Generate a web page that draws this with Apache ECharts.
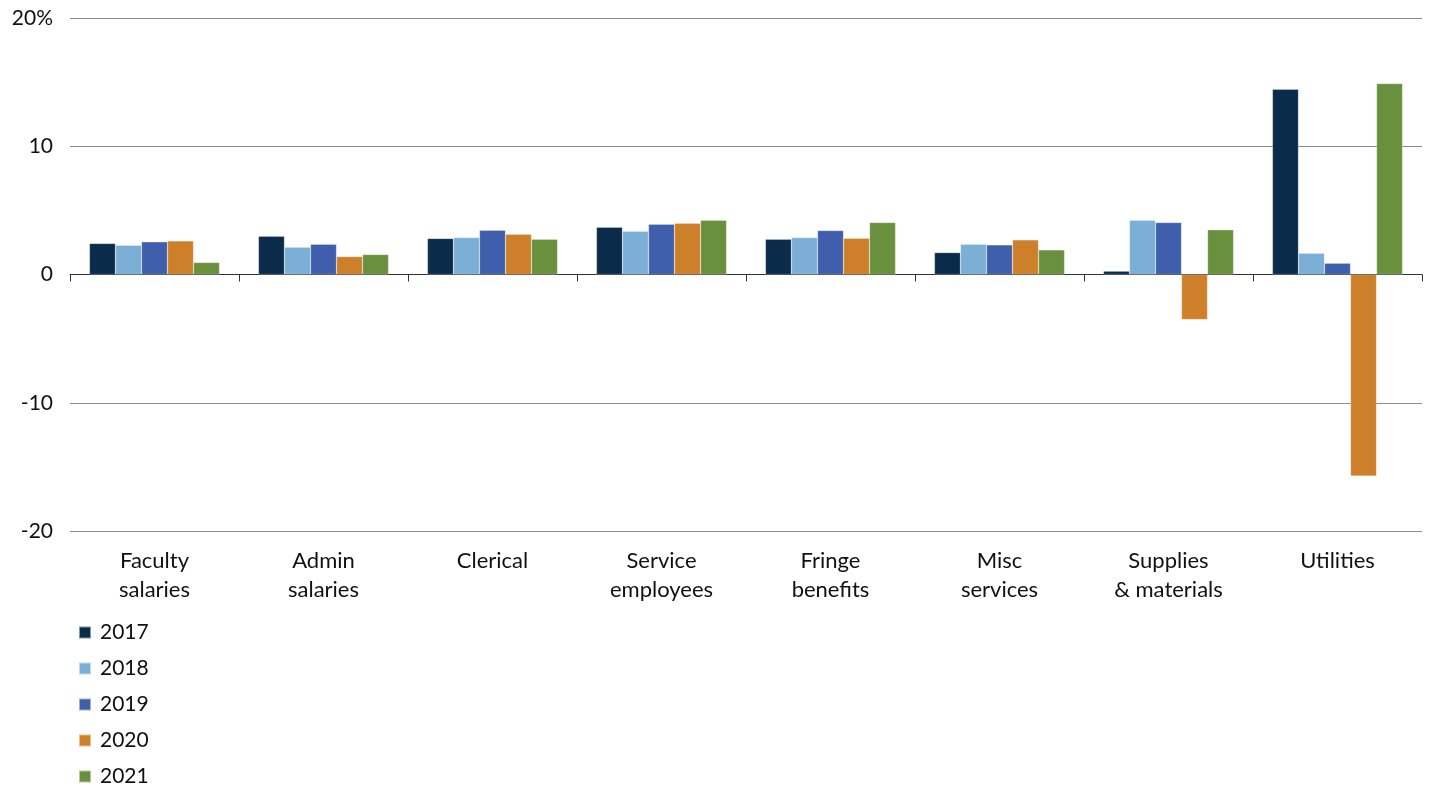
<!DOCTYPE html>
<html><head><meta charset="utf-8">
<script src="https://cdn.jsdelivr.net/npm/echarts@6/dist/echarts.min.js"></script>
<style>html,body{margin:0;padding:0;background:#fff}#c{width:1432px;height:788px}</style>
</head><body><div id="c"></div>
<script>
const categories = ['Faculty\nsalaries','Admin\nsalaries','Clerical','Service\nemployees','Fringe\nbenefits','Misc\nservices','Supplies\n& materials','Utilities'];
const years = ['2017','2018','2019','2020','2021'];
const v2017 = [2.42, 2.99, 2.81, 3.69, 2.75, 1.71, 0.26, 14.44];
const v2018 = [2.28, 2.13, 2.88, 3.38, 2.88, 2.36, 4.23, 1.66];
const v2019 = [2.55, 2.36, 3.45, 3.92, 3.43, 2.31, 4.05, 0.88];
const v2020 = [2.62, 1.40, 3.14, 4.00, 2.83, 2.70, -3.51, -15.72];
const v2021 = [0.94, 1.56, 2.75, 4.23, 4.05, 1.92, 3.48, 14.89];
const yTicks = [-20, -10, 0, 10, 20];
const colors = ['#0a2b4a', '#7bafd6', '#3f5eab', '#cd7f2a', '#68903d'];
const seriesValues = [v2017, v2018, v2019, v2020, v2021];

const FONT = 'Lato';
const chart = echarts.init(document.getElementById('c'));
chart.setOption({
  animation: false,
  textStyle: { fontFamily: FONT },
  grid: { left: 70, right: 10, top: 18, bottom: 257, containLabel: false },
  legend: {
    orient: 'vertical', left: 78, top: 622, padding: 0, height: 400,
    itemWidth: 12, itemHeight: 12, itemGap: 15,
    icon: 'rect',
    textStyle: { fontSize: 21, color: '#111', fontFamily: FONT, lineHeight: 20, padding: [0,0,0,4] },
    data: years
  },
  xAxis: [{
    type: 'category', data: categories,
    axisLine: { onZero: true, lineStyle: { color: '#333', width: 1 } },
    axisTick: { show: true, length: 7, lineStyle: { color: '#333' } },
    axisLabel: { show: false }
  }, {
    type: 'category', data: categories, position: 'bottom',
    axisLine: { show: false }, axisTick: { show: false },
    axisLabel: { show: true, margin: 15, fontSize: 22, color: '#111', lineHeight: 29, fontFamily: FONT, interval: 0 }
  }],
  yAxis: {
    type: 'value', min: -20, max: 20, interval: 10,
    axisLine: { show: false }, axisTick: { show: false },
    splitLine: { lineStyle: { color: '#8c8c8c', width: 1 } },
    axisLabel: { margin: 17, fontSize: 21, color: '#111', fontFamily: FONT,
      formatter: v => (v === yTicks[yTicks.length-1] ? v + '%' : String(v)) }
  },
  series: years.map((y, i) => ({
    name: y, type: 'bar', xAxisIndex: 0,
    data: seriesValues[i],
    barGap: '0%', barCategoryGap: '23%',
    itemStyle: { color: colors[i], borderColor: 'rgba(255,255,255,0.5)', borderWidth: 0.5 }
  }))
});
</script></body></html>
